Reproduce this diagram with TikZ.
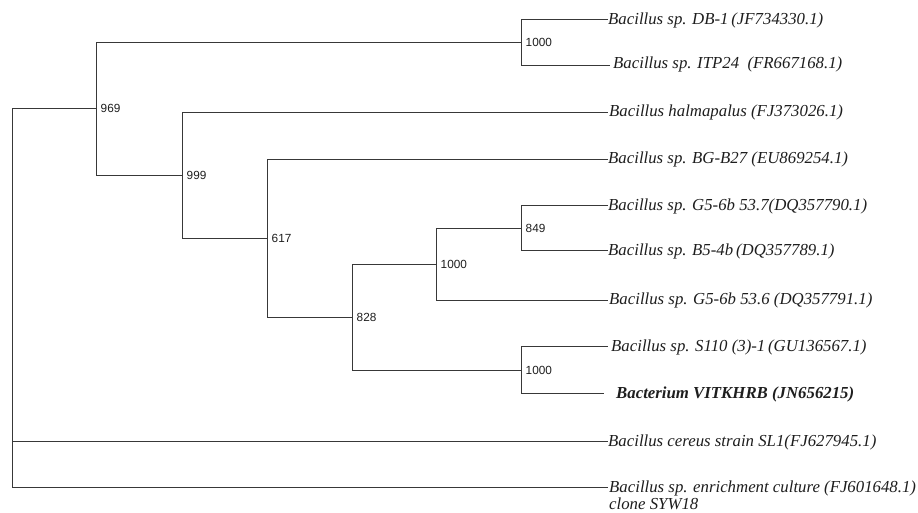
\documentclass[tikz,border=0pt]{standalone}
\usepackage{fontspec}
\setmainfont{Liberation Serif}
\newfontfamily\bootfont{Liberation Sans}
\usetikzlibrary{calc}
\definecolor{branchcol}{HTML}{383838}
\definecolor{textcol}{HTML}{1E1E1E}
\tikzset{
  branch/.style={draw=branchcol, line width=1.8pt, line cap=rect},
  leaftext/.style={anchor=base west, inner sep=0pt, text=textcol,
    font=\fontsize{16.8}{17}\selectfont\itshape, align=left},
  boot/.style={anchor=west, inner sep=0pt, text=textcol, xshift=4pt,
    font=\fontsize{11.8}{13}\selectfont\bootfont},
}
\begin{document}
\begin{tikzpicture}[x=1pt,y=-1pt]
\useasboundingbox (0,0) rectangle (918,512);
\fill[white] (0,0) rectangle (918,512);
% internal nodes
\coordinate (root)  at (12.5,108.5);
\coordinate (rootb) at (12.5,487.5);
\coordinate (n969)  at (96.5,108.5);
\coordinate (n1000a) at (521.5,42.5);
\coordinate (n999)  at (182.5,175.5);
\coordinate (n617)  at (267.5,238.5);
\coordinate (n828)  at (352.5,317.5);
\coordinate (n1000b) at (436.5,264.5);
\coordinate (n849)  at (521.5,228.5);
\coordinate (n1000c) at (521.5,370.5);
% leaf ends
\coordinate (lDB)   at (607,19.5);
\coordinate (lITP)  at (609,65.5);
\coordinate (lHal)  at (607,112.5);
\coordinate (lBG)   at (607,159.5);
\coordinate (lG537) at (607,205.5);
\coordinate (lB54)  at (607,250.5);
\coordinate (lG536) at (607,300.5);
\coordinate (lS110) at (607,346.5);
\coordinate (lVIT)  at (603,393.5);
\coordinate (lCer)  at (607,441.5);
\coordinate (lEnr)  at (607,487.5);
% branches
\draw[branch] (root) -- (rootb);
\draw[branch] (root) -- (n969);
\draw[branch] (root |- lCer) -- (lCer);
\draw[branch] (rootb) -- (lEnr);
\draw[branch] (n969) |- (n1000a);
\draw[branch] (n969) |- (n999);
\draw[branch] (n1000a) |- (lDB);
\draw[branch] (n1000a) |- (lITP);
\draw[branch] (n999) |- (lHal);
\draw[branch] (n999) |- (n617);
\draw[branch] (n617) |- (lBG);
\draw[branch] (n617) |- (n828);
\draw[branch] (n828) |- (n1000b);
\draw[branch] (n828) |- (n1000c);
\draw[branch] (n1000b) |- (n849);
\draw[branch] (n1000b) |- (lG536);
\draw[branch] (n849) |- (lG537);
\draw[branch] (n849) |- (lB54);
\draw[branch] (n1000c) |- (lS110);
\draw[branch] (n1000c) |- (lVIT);
% bootstrap values
\node[boot] (b969) at (n969) {969};
\node[boot] (b999) at (n999) {999};
\node[boot] (b617) at (n617) {617};
\node[boot] (b828) at (n828) {828};
\node[boot] (b1000a) at (n1000a) {1000};
\node[boot] (b849) at (n849) {849};
\node[boot] (b1000b) at (n1000b) {1000};
\node[boot] (b1000c) at (n1000c) {1000};
% leaf labels
\node[leaftext] (tDB)   at ($(lDB)+(1,5)$)   {Bacillus sp. DB-1\,(JF734330.1)};
\node[leaftext] (tITP)  at ($(lITP)+(4,3)$)  {Bacillus sp. ITP24\ \ (FR667168.1)};
\node[leaftext] (tHal)  at ($(lHal)+(2,4)$)  {Bacillus halmapalus (FJ373026.1)};
\node[leaftext] (tBG)   at ($(lBG)+(1,4)$)   {Bacillus sp. BG-B27 (EU869254.1)};
\node[leaftext] (tG537) at ($(lG537)+(1,4.5)$) {Bacillus sp. G5-6b 53.7(DQ357790.1)};
\node[leaftext] (tB54)  at ($(lB54)+(1,4.5)$)  {Bacillus sp. B5-4b\,(DQ357789.1)};
\node[leaftext] (tG536) at ($(lG536)+(2,3.5)$) {Bacillus sp. G5-6b 53.6 (DQ357791.1)};
\node[leaftext] (tS110) at ($(lS110)+(4,5)$) {Bacillus sp. S110 (3)-1\,(GU136567.1)};
\node[leaftext,font=\fontsize{16.8}{17}\selectfont\bfseries\itshape] (tVIT) at ($(lVIT)+(13,5)$) {Bacterium VITKHRB (JN656215)};
\node[leaftext] (tCer)  at ($(lCer)+(1,4.5)$) {Bacillus cereus strain SL1(FJ627945.1)};
\node[leaftext] (tEnr)  at ($(lEnr)+(2,21.5)$)  {Bacillus sp. enrichment culture (FJ601648.1)\\clone SYW18};
\end{tikzpicture}
\end{document}
